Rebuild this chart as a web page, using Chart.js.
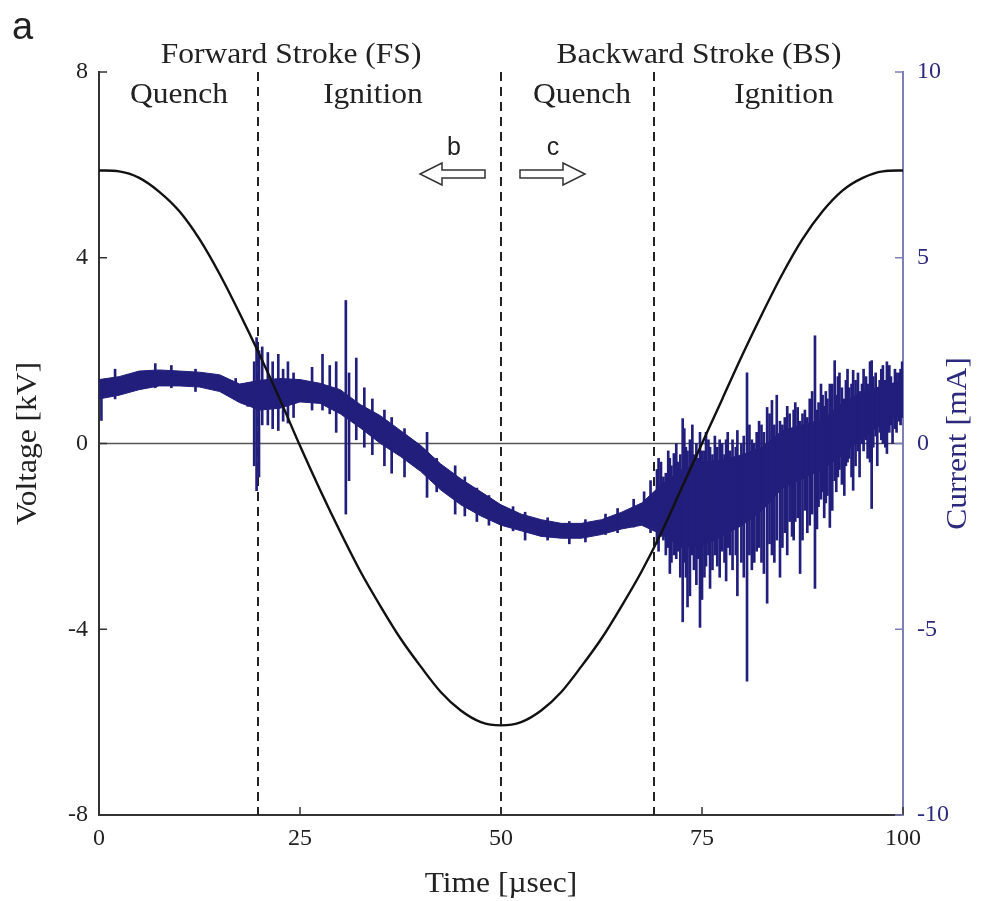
<!DOCTYPE html>
<html>
<head>
<meta charset="utf-8">
<script src="https://cdn.jsdelivr.net/npm/chart.js@4"></script>
<style>
  html, body { margin: 0; padding: 0; background: #fff; }
  #wrap { width: 987px; height: 901px; position: relative; }
</style>
</head>
<body>
<div id="wrap"><canvas id="chart"></canvas></div>
<script>
// ===== DATA =====
const xTicks = [0, 25, 50, 75, 100];
const voltTicks = [-8, -4, 0, 4, 8];
const currTicks = [-10, -5, 0, 5, 10];
const strokeBounds = [19.8, 50, 69];   // dashed phase boundaries [µs]

// voltage [kV] sampled every 2.5 µs
const timeV = [0, 2.5, 5, 7.5, 10, 12.5, 15, 17.5, 20, 22.5, 25, 27.5, 30, 32.5, 35, 37.5, 40, 42.5, 45, 47.5,
  50, 52.5, 55, 57.5, 60, 62.5, 65, 67.5, 70, 72.5, 75, 77.5, 80, 82.5, 85, 87.5, 90, 92.5, 95, 97.5, 100];
const voltage = [5.88, 5.86, 5.72, 5.42, 5.0, 4.4, 3.65, 2.8, 1.9, 0.95, -0.05, -1.0, -1.9, -2.75, -3.5, -4.2, -4.8, -5.35, -5.75, -6.0,
  -6.07, -6.0, -5.75, -5.35, -4.8, -4.2, -3.5, -2.75, -1.9, -0.95, 0.0, 0.95, 1.9, 2.8, 3.65, 4.4, 5.0, 5.45, 5.72, 5.86, 5.88];

// current [mA] dense band: upper / lower envelope, same time base
const timeI = timeV;
const currentHi = [1.72, 1.8, 1.95, 1.98, 1.95, 1.92, 1.85, 1.6, 1.7, 1.75, 1.72, 1.62, 1.45, 1.05, 0.75, 0.35, -0.05, -0.55, -0.95, -1.3,
  -1.65, -1.9, -2.05, -2.15, -2.15, -2.05, -1.85, -1.6, -1.1, -0.7, -0.5, -0.45, -0.3, -0.1, 0.35, 0.5, 0.65, 1.1, 1.4, 1.55, 1.7];
const currentLo = [1.2, 1.3, 1.45, 1.55, 1.55, 1.52, 1.4, 1.1, 0.9, 0.95, 1.12, 1.08, 0.8, 0.42, 0.0, -0.35, -0.75, -1.25, -1.65, -1.95,
  -2.2, -2.35, -2.5, -2.55, -2.55, -2.45, -2.3, -2.2, -2.45, -2.8, -2.75, -2.5, -2.2, -1.8, -1.2, -0.95, -0.7, -0.3, 0.15, 0.55, 0.8];

// current spikes [t, min, max]
const spikes = [
  [0.3, 0.62, 1.7], [2, 1.2, 2.0], [7, 1.5, 2.15], [9, 1.5, 2.1], [12, 1.4, 2.0], [17, 1.2, 1.75], [18.5, 1.0, 1.6],
  [19.3, -0.6, 2.2], [19.6, -1.27, 2.85], [19.9, -0.9, 2.5], [20.3, 0.5, 2.6], [21.0, 0.5, 2.45], [21.6, 0.4, 2.2],
  [22.3, 0.35, 2.4], [22.9, 0.6, 2.0], [23.5, 0.55, 2.2], [24.2, 0.7, 1.9], [26.5, 0.9, 2.05], [27.8, 0.9, 2.4],
  [28.7, 0.8, 2.1], [29.5, 0.3, 2.2], [30.7, -1.9, 3.85], [31.1, -1.0, 1.9], [32.0, 0.1, 2.3], [33, -0.1, 1.5],
  [34, -0.3, 1.2], [35.5, -0.6, 0.9], [36.4, -0.8, 0.7], [38, -0.9, 0.4], [40.8, -1.45, 0.3], [42, -1.3, -0.4],
  [44.3, -1.9, -0.6], [45.5, -1.95, -0.9], [47, -2.1, -1.2], [48.5, -2.2, -1.4], [51.5, -2.35, -1.7], [53, -2.6, -1.85],
  [55.8, -2.6, -2.0], [58.5, -2.7, -2.1], [60.5, -2.65, -2.05], [63, -2.45, -1.9], [64.5, -2.4, -1.75], [66.5, -2.25, -1.5],
  [67.8, -2.2, -1.3], [68.6, -2.4, -1.0],
  [69.4, -2.7, -0.7], [69.6, -2.9, -0.4], [69.9, -2.5, -0.5], [70.2, -2.6, -0.9], [70.5, -3.0, -0.8], [70.8, -2.8, -0.2],
  [71.0, -3.5, -0.4], [71.2, -3.2, -0.6], [71.5, -3.0, -0.27], [71.8, -3.1, 0.0], [72.0, -2.9, -0.5], [72.3, -3.6, -0.3],
  [72.6, -4.8, 0.67], [72.8, -3.2, 0.4], [73.0, -3.6, -0.1], [73.2, -4.4, -0.2], [73.5, -4.1, 0.1], [73.8, -3.0, 0.5],
  [74.0, -3.4, -0.3], [74.3, -3.8, 0.0], [74.5, -3.1, -0.4], [74.75, -4.95, 0.3], [75.0, -4.2, -0.2], [75.3, -3.6, -0.2],
  [75.5, -3.3, 0.3], [75.8, -3.0, 0.1], [76.0, -3.9, -0.1], [76.3, -3.4, -0.3], [76.6, -3.0, 0.2], [76.9, -3.3, -0.1],
  [77.2, -3.6, 0.1], [77.5, -2.9, 0.0], [77.8, -3.2, -0.3], [78.0, -3.7, 0.1], [78.2, -2.8, 0.3], [78.5, -3.0, -0.2],
  [78.8, -3.4, 0.1], [79.2, -3.0, -0.1], [79.4, -4.1, 0.35], [79.9, -3.2, 0.0], [80.2, -3.6, 0.2], [80.6, -6.4, 1.9],
  [80.9, -3.0, 0.5], [81.2, -3.4, 0.1], [81.5, -3.2, 0.0], [81.8, -2.9, 0.3], [82.1, -2.8, 0.6], [82.4, -3.2, 0.5],
  [82.7, -3.5, 0.3], [83.1, -4.3, 0.97], [83.4, -2.7, 0.8], [83.7, -3.0, 1.16], [84.0, -3.2, 0.5], [84.3, -2.6, 1.3],
  [84.7, -3.6, 0.6], [85.0, -2.8, 0.5], [85.3, -2.4, 0.7], [85.6, -3.0, 1.0], [85.9, -2.1, 0.8], [86.2, -2.5, 0.4],
  [86.4, -2.6, 0.9], [86.6, -2.1, 1.1], [86.9, -2.0, 0.97], [87.2, -3.5, 0.6], [87.5, -2.6, 0.8], [87.8, -1.8, 0.9],
  [88.1, -2.4, 0.7], [88.4, -2.2, 1.2], [88.7, -1.9, 1.4], [89.05, -3.9, 2.9], [89.3, -2.3, 0.9], [89.5, -1.7, 1.1],
  [89.8, -1.5, 1.6], [90.0, -1.3, 1.3], [90.2, -2.0, 1.0], [90.4, -1.6, 1.4], [90.6, -1.4, 1.2], [90.9, -2.26, 1.6],
  [91.2, -1.8, 1.6], [91.5, -1.0, 2.23], [91.7, -1.3, 1.3], [91.9, -0.9, 1.8], [92.1, -0.7, 1.9], [92.4, -1.1, 1.5],
  [92.7, -1.4, 1.2], [92.9, -0.6, 1.7], [93.1, -0.5, 2.0], [93.3, -0.4, 1.5], [93.6, -0.9, 1.6], [93.8, -1.26, 1.97],
  [94.1, -0.6, 1.7], [94.4, -0.2, 1.9], [94.6, -0.9, 1.4], [94.9, 0.0, 1.6], [95.1, -0.2, 2.0], [95.4, 0.1, 1.8],
  [95.6, -0.4, 1.6], [95.9, -0.5, 2.2], [96.1, -1.75, 2.23], [96.3, -0.1, 1.8], [96.6, 0.2, 1.9], [96.8, -0.6, 1.5],
  [97.1, 0.3, 1.7], [97.3, 0.1, 2.0], [97.5, 0.0, 2.1], [97.8, -0.1, 1.7], [98.0, -0.27, 2.2], [98.3, 0.3, 2.1],
  [98.5, 0.5, 1.8], [98.7, 0.0, 1.6], [99.0, 0.4, 2.0], [99.2, 0.3, 1.9], [99.5, 0.6, 1.9], [99.7, 0.5, 2.0], [99.9, 0.7, 2.2]
];

// ===== STYLE =====
const NAVY = "#221e7c";
const SERIF = "'Liberation Serif', 'Times New Roman', serif";
const SANS = "'Liberation Sans', Arial, sans-serif";

function setTicks(values) {
  return scale => { scale.ticks = values.map(v => ({ value: v })); };
}

// text slightly stretched horizontally, like the printed figure
function wideText(ctx, str, x, y, rot) {
  ctx.save();
  ctx.translate(x, y);
  if (rot) ctx.rotate(rot);
  ctx.scale(1.05, 1);
  ctx.fillText(str, 0, 0);
  ctx.restore();
}

// dashed lines, zero line, inward ticks, labels and arrows
const overlay = {
  id: "overlay",
  beforeDatasetsDraw(chart) {
    const { ctx, chartArea: a, scales: { x, y } } = chart;
    ctx.save();
    ctx.strokeStyle = "#555";
    ctx.lineWidth = 1.5;
    ctx.beginPath();
    ctx.moveTo(a.left, y.getPixelForValue(0));
    ctx.lineTo(a.right, y.getPixelForValue(0));
    ctx.stroke();

    ctx.strokeStyle = "#222";
    ctx.lineWidth = 2;
    ctx.setLineDash([9, 6]);
    strokeBounds.forEach(t => {
      const px = Math.round(x.getPixelForValue(t));
      ctx.beginPath();
      ctx.moveTo(px, a.top);
      ctx.lineTo(px, a.bottom);
      ctx.stroke();
    });
    ctx.restore();
  },
  afterDraw(chart) {
    const { ctx, chartArea: a, scales: { x, y, y1 } } = chart;
    ctx.save();

    // inward ticks
    ctx.lineWidth = 1.5;
    ctx.strokeStyle = "#333";
    voltTicks.forEach(v => {
      const py = y.getPixelForValue(v);
      ctx.beginPath(); ctx.moveTo(a.left, py); ctx.lineTo(a.left + 8, py); ctx.stroke();
    });
    xTicks.forEach(v => {
      const px = x.getPixelForValue(v);
      ctx.beginPath(); ctx.moveTo(px, a.bottom); ctx.lineTo(px, a.bottom - 8); ctx.stroke();
    });
    ctx.strokeStyle = "#7f7fb8";
    currTicks.forEach(v => {
      const py = y1.getPixelForValue(v);
      ctx.beginPath(); ctx.moveTo(a.right, py); ctx.lineTo(a.right - 8, py); ctx.stroke();
    });

    // axis titles
    const midY = (a.top + a.bottom) / 2;
    ctx.font = "30px " + SERIF;
    ctx.textAlign = "center";
    ctx.textBaseline = "middle";
    ctx.fillStyle = "#222";
    wideText(ctx, "Voltage [kV]", 28, midY, -Math.PI / 2);
    ctx.fillStyle = "#2d2a7e";
    wideText(ctx, "Current [mA]", 958, midY, -Math.PI / 2);
    ctx.fillStyle = "#222";
    wideText(ctx, "Time [µsec]", (a.left + a.right) / 2, 884);

    // stroke / phase labels
    ctx.textBaseline = "alphabetic";
    wideText(ctx, "Forward Stroke (FS)", 291, 63);
    wideText(ctx, "Backward Stroke (BS)", 699, 63);
    wideText(ctx, "Quench", 179, 103);
    wideText(ctx, "Ignition", 373, 103);
    wideText(ctx, "Quench", 582, 103);
    wideText(ctx, "Ignition", 784, 103);

    // panel letter and arrow letters
    ctx.font = "38px " + SANS;
    ctx.textAlign = "left";
    ctx.fillText("a", 12, 39);
    ctx.font = "25px " + SANS;
    ctx.textAlign = "center";
    ctx.fillText("b", 454, 155);
    ctx.fillText("c", 553, 155);

    // hollow arrows
    ctx.lineWidth = 1.5;
    ctx.strokeStyle = "#333";
    ctx.fillStyle = "#fff";
    function arrow(tail, tip, cy) {
      const dir = Math.sign(tip - tail);
      const head = tip - dir * 22;
      ctx.beginPath();
      ctx.moveTo(tail, cy - 4);
      ctx.lineTo(head, cy - 4);
      ctx.lineTo(head, cy - 11);
      ctx.lineTo(tip, cy);
      ctx.lineTo(head, cy + 11);
      ctx.lineTo(head, cy + 4);
      ctx.lineTo(tail, cy + 4);
      ctx.closePath();
      ctx.fill();
      ctx.stroke();
    }
    arrow(485, 420, 174);
    arrow(520, 585, 174);

    ctx.restore();
  }
};

const ctx = document.getElementById("chart").getContext("2d");

new Chart(ctx, {
  type: "line",
  data: {
    datasets: [
      {
        label: "Voltage",
        data: timeV.map((t, i) => ({ x: t, y: voltage[i] })),
        yAxisID: "y",
        borderColor: "#111",
        borderWidth: 2.4,
        pointRadius: 0,
        cubicInterpolationMode: "monotone",
        fill: false,
        order: 0
      },
      {
        label: "Current low",
        data: timeI.map((t, i) => ({ x: t, y: currentLo[i] })),
        yAxisID: "y1",
        borderColor: NAVY,
        borderWidth: 1,
        pointRadius: 0,
        tension: 0,
        fill: false,
        order: 2
      },
      {
        label: "Current high",
        data: timeI.map((t, i) => ({ x: t, y: currentHi[i] })),
        yAxisID: "y1",
        borderColor: NAVY,
        backgroundColor: NAVY,
        borderWidth: 1,
        pointRadius: 0,
        tension: 0,
        fill: "-1",
        order: 2
      },
      {
        type: "bar",
        label: "Current spikes",
        data: spikes.map(s => ({ x: s[0], y: [s[1], s[2]] })),
        yAxisID: "y1",
        backgroundColor: NAVY,
        borderWidth: 0,
        barThickness: 2,
        grouped: false,
        order: 1
      }
    ]
  },
  options: {
    responsive: true,
    maintainAspectRatio: false,
    animation: false,
    events: [],
    layout: { padding: { top: 72, left: 0, right: 0, bottom: 0 } },
    plugins: {
      legend: { display: false },
      tooltip: { enabled: false }
    },
    scales: {
      x: {
        type: "linear",
        min: 0,
        max: 100,
        offset: false,
        afterBuildTicks: setTicks(xTicks),
        afterFit: s => { s.height = 86; },
        grid: { display: false, drawTicks: false },
        border: { display: true, color: "#333", width: 2 },
        ticks: {
          color: "#222",
          padding: 9,
          font: { size: 24, family: SERIF },
          maxRotation: 0
        }
      },
      y: {
        position: "left",
        min: -8,
        max: 8,
        afterBuildTicks: setTicks(voltTicks),
        afterFit: s => { s.width = 99; },
        grid: { display: false, drawTicks: false },
        border: { display: true, color: "#333", width: 2 },
        ticks: {
          color: "#222",
          padding: 11,
          font: { size: 24, family: SERIF }
        }
      },
      y1: {
        position: "right",
        min: -10,
        max: 10,
        afterBuildTicks: setTicks(currTicks),
        afterFit: s => { s.width = 84; },
        grid: { display: false, drawTicks: false },
        border: { display: true, color: "#7f7fb8", width: 2 },
        ticks: {
          color: "#2d2a7e",
          padding: 14,
          font: { size: 24, family: SERIF }
        }
      }
    }
  },
  plugins: [overlay]
});
</script>
</body>
</html>
